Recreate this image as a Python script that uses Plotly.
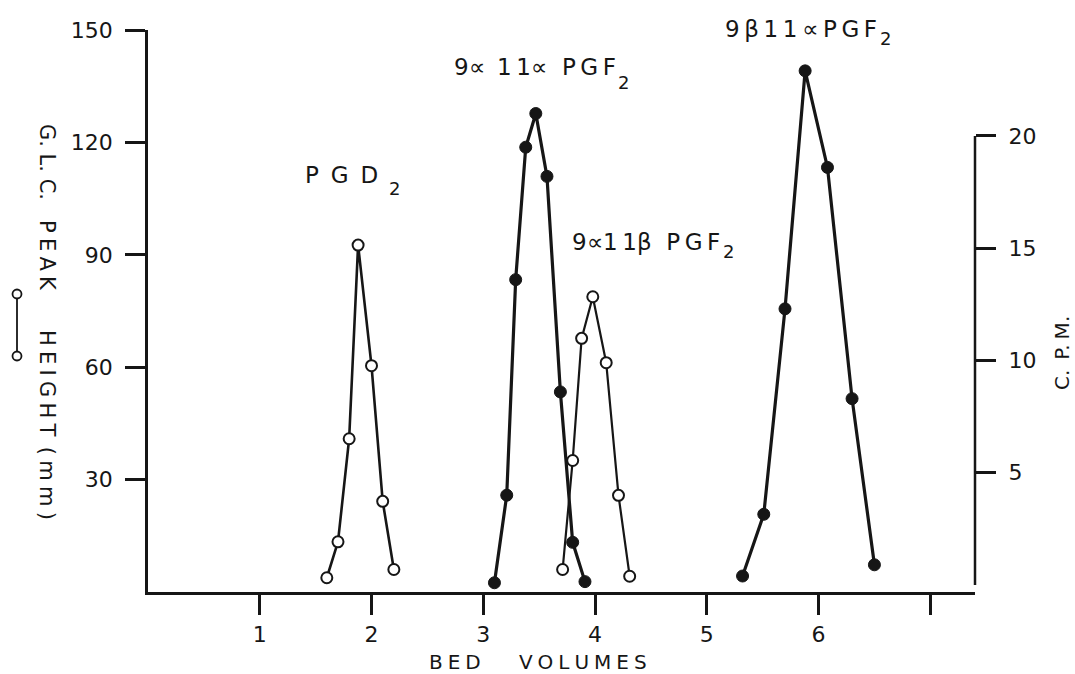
import plotly.graph_objects as go

# Bed volumes (x) and G.L.C. peak heights in mm (open circles, left axis)
bed_pgd2 = [1.6, 1.7, 1.8, 1.88, 2.0, 2.1, 2.2]
glc_pgd2 = [3.8, 13.4, 40.9, 92.6, 60.4, 24.2, 6.0]

bed_9a11b = [3.71, 3.8, 3.88, 3.98, 4.1, 4.21, 4.31]
glc_9a11b = [6.0, 35.1, 67.7, 78.8, 61.2, 25.8, 4.2]

# Radioactivity in C.P.M. (filled circles, right axis)
bed_9a11a = [3.1, 3.21, 3.29, 3.38, 3.47, 3.57, 3.69, 3.8, 3.91]
cpm_9a11a = [0.1, 4.0, 13.6, 19.5, 21.0, 18.2, 8.6, 1.9, 0.15]

bed_9b11a = [5.32, 5.51, 5.7, 5.88, 6.08, 6.3, 6.5]
cpm_9b11a = [0.4, 3.15, 12.3, 22.9, 18.6, 8.3, 0.9]

# Axis ticks
x_tickvals = [1, 2, 3, 4, 5, 6, 7]
x_ticktext = ["1", "2", "3", "4", "5", "6", ""]
glc_tickvals = [30, 60, 90, 120, 150]
cpm_tickvals = [5, 10, 15, 20]

W, H = 1075, 674
ML, MR, MT, MB = 148, 100, 30, 82
INK = "#161616"
FONT = "DejaVu Sans"
sp = "\u2005"    # letter-spacing gap
th = "\u2009"    # thin gap


def paper_x(px):
    return (px - ML) / (W - ML - MR)


def paper_y(py):
    return (H - MB - py) / (H - MT - MB)


fig = go.Figure()

filled_line = dict(color=INK, width=3.2)
filled_marker = dict(symbol="circle", size=12, color=INK, line=dict(color=INK, width=1))
open_line = dict(color=INK, width=2.2)
open_marker = dict(symbol="circle", size=11, color="white", line=dict(color=INK, width=2))

fig.add_trace(go.Scatter(x=bed_9a11a, y=cpm_9a11a, yaxis="y2", mode="lines+markers",
                         line=filled_line, marker=filled_marker, name="9α 11α PGF2 (C.P.M.)"))
fig.add_trace(go.Scatter(x=bed_9b11a, y=cpm_9b11a, yaxis="y2", mode="lines+markers",
                         line=filled_line, marker=filled_marker, name="9β 11α PGF2 (C.P.M.)"))
fig.add_trace(go.Scatter(x=bed_pgd2, y=glc_pgd2, mode="lines+markers",
                         line=dict(color=INK, width=2.6), marker=open_marker, name="PGD2 (G.L.C.)"))
fig.add_trace(go.Scatter(x=bed_9a11b, y=glc_9a11b, mode="lines+markers",
                         line=open_line, marker=open_marker, name="9α 11β PGF2 (G.L.C.)"))

tick_font = dict(family=FONT, size=22, color=INK)
axis_common = dict(showgrid=False, zeroline=False, ticks="outside", ticklen=20,
                   tickwidth=2.5, tickcolor=INK, tickfont=tick_font)

fig.update_layout(
    width=W, height=H,
    margin=dict(l=ML, r=MR, t=MT, b=MB),
    paper_bgcolor="white", plot_bgcolor="white",
    showlegend=False,
    xaxis=dict(range=[0, 7.4], tickvals=x_tickvals, ticktext=x_ticktext,
               showline=True, linewidth=2.5, linecolor=INK, ticklabelstandoff=1,
               **axis_common),
    yaxis=dict(range=[0, 150], tickvals=glc_tickvals, showline=True, linewidth=2.5,
               linecolor=INK, ticklabelstandoff=8, **axis_common),
    yaxis2=dict(overlaying="y", side="right", anchor="x", range=[-0.312, 24.72],
                tickvals=cpm_tickvals, showline=False, ticklabelstandoff=8,
                **axis_common),
)

# Right-hand C.P.M. axis line, running from 0 up to the top tick
fig.add_shape(type="line", xref="paper", x0=1, x1=1, yref="y2", y0=0, y1=20,
              line=dict(color=INK, width=2.5))

# Key glyph for the open-circle series, beside the left axis title
for cy in (294, 356):
    fig.add_shape(type="circle", xref="paper", yref="paper", xsizemode="pixel", ysizemode="pixel",
                  xanchor=paper_x(17), yanchor=paper_y(cy), x0=-4.5, x1=4.5, y0=-4.5, y1=4.5,
                  line=dict(color=INK, width=1.8), fillcolor="white")
fig.add_shape(type="line", xref="paper", yref="paper", xsizemode="pixel", ysizemode="pixel",
              xanchor=paper_x(17), yanchor=paper_y(356), x0=0, x1=0, y0=4.5, y1=57,
              line=dict(color=INK, width=1.8))

# Peak names: main text and a lowered subscript "2"
label_font = dict(family=FONT, size=23, color=INK)
sub_font = dict(family=FONT, size=18, color=INK)
peak_labels = [
    # (left px, caps-centre px, text, subscript left px, subscript centre px)
    (303, 175, f"P {th}G {th}D", 387, 188),
    (452, 66.5, f"9∝ {th}1{th}1∝  P{th}G{th}F", 616, 82.5),
    (570, 242, f"9∝1{th}1β  P{th}G{th}F", 721, 252),
    (723, 29, f"9{th}β{th}1{th}1{th}∝{th}P{th}G{th}F", 878, 38.5),
]
for lx, ly, txt, sx, sy in peak_labels:
    fig.add_annotation(x=paper_x(lx), y=paper_y(ly), xref="paper", yref="paper", text=txt,
                       showarrow=False, xanchor="left", yanchor="middle", font=label_font)
    fig.add_annotation(x=paper_x(sx), y=paper_y(sy), xref="paper", yref="paper", text="2",
                       showarrow=False, xanchor="left", yanchor="middle", font=sub_font)

fig.add_annotation(x=paper_x(538), y=paper_y(662), xref="paper", yref="paper",
                   xanchor="center", yanchor="middle",
                   text=f"B{sp}E{sp}D      V{sp}O{sp}L{sp}U{sp}M{sp}E{sp}S",
                   showarrow=False, font=dict(family=FONT, size=20, color=INK))
left_title = (f"G. L. C.   P{sp}E{sp}A{sp}K      "
              f"H{sp}E{sp}I{sp}G{sp}H{sp}T{sp}{sp}({sp}m{sp}m{sp})")
fig.add_annotation(x=paper_x(47), y=paper_y(322), xref="paper", yref="paper", textangle=90,
                   xanchor="center", yanchor="middle",
                   text=left_title, showarrow=False, font=dict(family=FONT, size=21, color=INK))
fig.add_annotation(x=paper_x(1062), y=paper_y(353), xref="paper", yref="paper", textangle=-90,
                   xanchor="center", yanchor="middle",
                   text=f"C.{sp}{sp}P.{sp}M.", showarrow=False,
                   font=dict(family=FONT, size=20, color=INK))

fig.write_html("out.html")
